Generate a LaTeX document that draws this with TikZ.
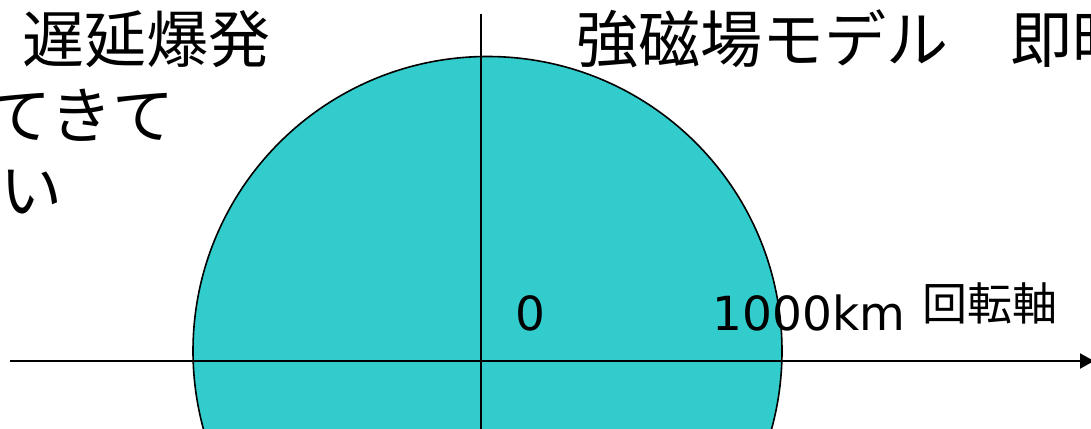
\documentclass[tikz,border=0pt]{standalone}
\usepackage{fontspec}
\setmainfont{Noto Sans CJK JP}
\newfontfamily\latinf{DejaVu Sans}
\usetikzlibrary{arrows.meta}
\definecolor{disk}{RGB}{51,204,204}
\begin{document}
\begin{tikzpicture}[x=1pt,y=-1pt,
  bigtxt/.style={inner sep=0pt, font=\fontsize{62}{70}\selectfont},
  midtxt/.style={inner sep=0pt, font=\fontsize{45}{50}\selectfont},
  numtxt/.style={inner sep=0pt, font=\latinf\fontsize{47}{52}\selectfont},
  axisline/.style={line width=2pt}]
\useasboundingbox (0,0) rectangle (1091,428);
\clip (0,0) rectangle (1091,428);
\node[circle, draw, fill=disk, line width=1.6pt, minimum size=589pt, inner sep=0pt] (star) at (487.5,351) {};
\coordinate (vtop) at (481,14);
\coordinate (vbot) at (481,440);
\draw[axisline] (vtop) -- (vbot);
\coordinate (hl) at (10,361);
\coordinate (hr) at (1094,361);
\draw[axisline,-{Triangle[length=14pt,width=15pt]}] (hl) -- (hr);
\node[bigtxt] (delay) at (146,39) {遅延爆発};
\node[bigtxt] (dekite) at (82,115) {てきて};
\node[bigtxt] (i) at (32,192) {い};
\node[bigtxt, anchor=west] (magnetar) at (576,39) {強磁場モデル　即時};
\node[numtxt] (zero) at (530,313) {0};
\node[numtxt] (thousand) at (809,313) {1000km};
\node[midtxt] (rot) at (990,303) {回転軸};
\end{tikzpicture}
\end{document}
